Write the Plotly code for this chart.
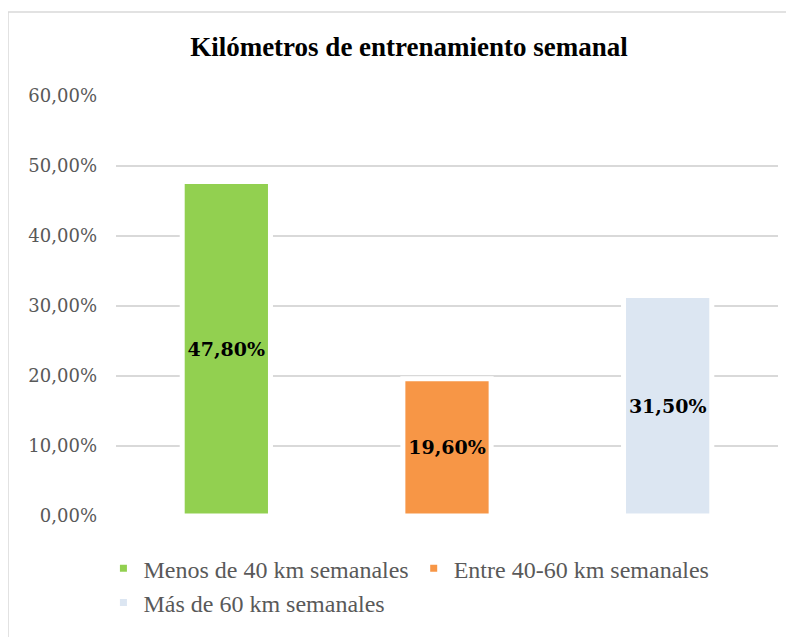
import plotly.graph_objects as go

categories = ["Menos de 40 km semanales", "Entre 40-60 km semanales", "Más de 60 km semanales"]
values = [47.8, 19.6, 31.5]
colors = ["#92d050", "#f79646", "#dce6f2"]
tick_vals = [0, 10, 20, 30, 40, 50, 60]
tick_text = ["0,00%", "10,00%", "20,00%", "30,00%", "40,00%", "50,00%", "60,00%"]
label_text = ["47,80%", "19,60%", "31,50%"]
title = "Kilómetros de entrenamiento semanal"

fig = go.Figure()
for cat, val, col, lab in zip(categories, values, colors, label_text):
    fig.add_trace(go.Bar(
        x=[cat], y=[val], name=cat,
        marker=dict(color=col, line=dict(color="white", width=5)),
        width=0.4,
        text=[lab], textposition="inside", insidetextanchor="middle",
        textfont=dict(family="DejaVu Serif", size=19, color="black", weight="bold"),
        textangle=0,
    ))

fig.update_layout(
    width=794, height=637,
    margin=dict(l=108, r=24, t=88, b=129),
    paper_bgcolor="white", plot_bgcolor="white",
    barmode="overlay",
    showlegend=True,
    title=dict(text="<b>" + title + "</b>", x=401 / 794, xref="container", xanchor="center",
               y=1 - 39 / 637, yref="container", yanchor="middle",
               font=dict(family="Liberation Serif", size=27, color="black")),
    legend=dict(orientation="h", x=-0.019, xanchor="left", y=-0.072, yanchor="top",
                font=dict(family="Liberation Serif", size=24, color="#595959"),
                bgcolor="rgba(0,0,0,0)"),
    shapes=[dict(type="rect", xref="paper", yref="paper",
                 x0=-108 / 662, x1=1.2, y0=-0.5, y1=(508 - 4) / 420,
                 line=dict(color="#d9d9d9", width=1.5), fillcolor="rgba(0,0,0,0)", layer="below")],
)
fig.update_xaxes(showticklabels=False, showgrid=False, zeroline=False, showline=False, automargin=False)
fig.update_yaxes(range=[0, 60], tickvals=tick_vals, ticktext=tick_text,
                 showgrid=True, gridcolor="#d9d9d9", gridwidth=1.5,
                 zeroline=False, showline=False, ticks="", automargin=False,
                 ticklabelstandoff=18,
                 tickfont=dict(family="DejaVu Serif", size=18, color="#595959"))

fig.write_html("out.html")
